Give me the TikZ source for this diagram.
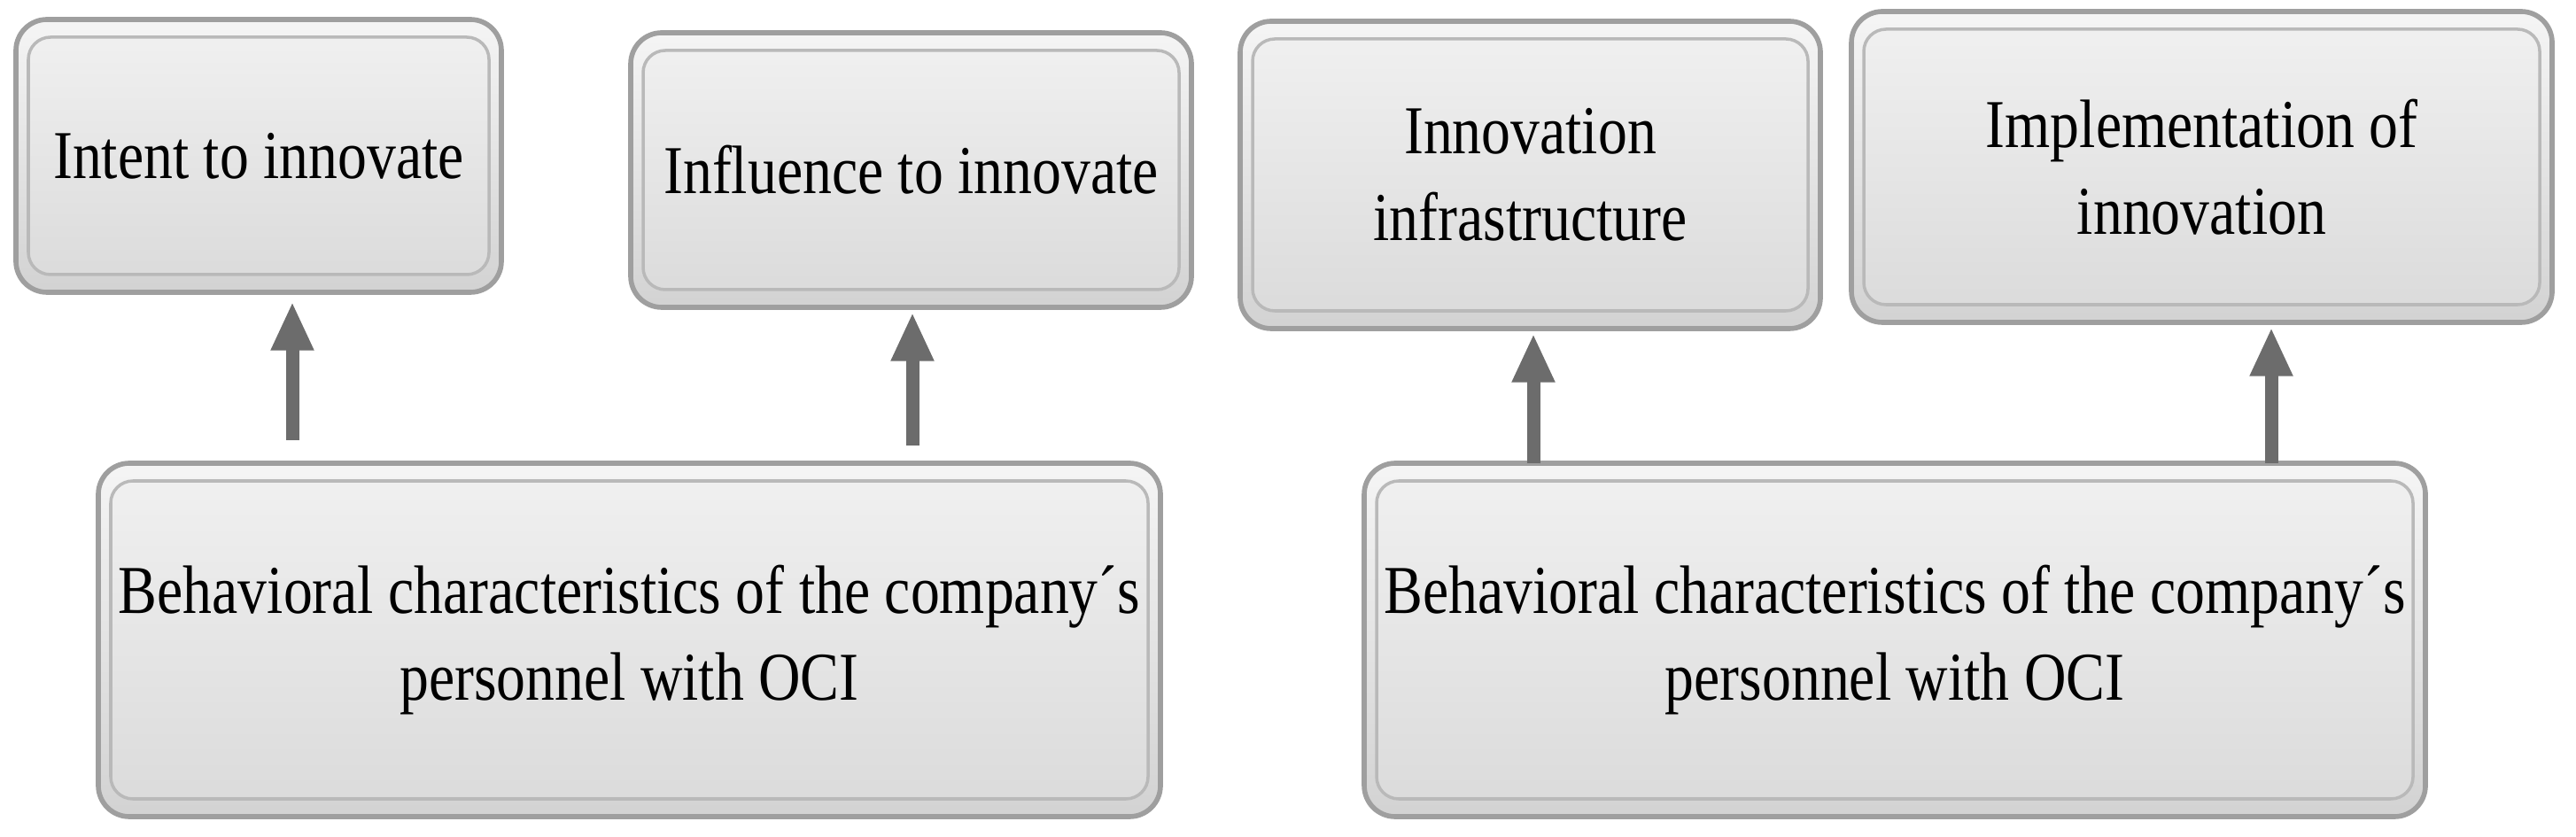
\documentclass[tikz,border=0pt]{standalone}
\usepackage{fontspec}
\setmainfont{Liberation Serif}
\usetikzlibrary{arrows.meta,calc}
\tikzset{
 outerbox/.style={draw=gray!75,line width=1.6pt,rounded corners=0.35cm,top color=gray!8,bottom color=gray!35},
 innerbox/.style={draw=gray!55,line width=1pt,rounded corners=0.25cm,top color=gray!12,bottom color=gray!28},
 label/.style={draw=none,align=center,font=\fontsize{22}{28}\selectfont,inner sep=0pt},
 uparrow/.style={draw=gray!85!black,line width=0.15cm,-{Triangle[width=0.45cm,length=0.55cm]}}
}
\newcommand{\mybox}[6]{%
 \path[outerbox] (#2,#3) rectangle (#4,#5);
 \path[innerbox] ($(#2,#3)+(0.14,0.2)$) rectangle ($(#4,#5)+(-0.14,-0.2)$);
 \node[label,minimum width={(#4-#2)*1cm},minimum height={(#5-#3)*1cm}] (#1) at ($(#2,#3)!0.5!(#4,#5)$) {\scalebox{0.85}[1]{\parbox{15cm}{\centering #6}}};
}
\begin{document}
\begin{tikzpicture}
\useasboundingbox (0,0) rectangle (29.08,9.44);
\mybox{a}{0.18}{6.14}{5.66}{9.22}{Intent to innovate}
\mybox{b}{7.12}{5.97}{13.45}{9.07}{Influence to innovate}
\mybox{c}{14.0}{5.73}{20.55}{9.20}{Innovation\\infrastructure}
\mybox{d}{20.9}{5.80}{28.81}{9.31}{Implementation of\\innovation}
\mybox{e}{1.11}{0.22}{13.10}{4.21}{Behavioral characteristics of the company\textasciiacute s\\personnel with OCI}
\mybox{f}{15.40}{0.22}{27.38}{4.21}{Behavioral characteristics of the company\textasciiacute s\\personnel with OCI}
\coordinate (s1) at (3.30,4.47);
\coordinate (s2) at (10.30,4.41);
\coordinate (s3) at (17.31,4.21);
\coordinate (s4) at (25.64,4.21);
\draw[uparrow] (s1) -- ($(s1 |- a.south)+(0,-0.1)$);
\draw[uparrow] (s2) -- ($(s2 |- b.south)+(0,-0.05)$);
\draw[uparrow] (s3) -- ($(s3 |- c.south)+(0,-0.05)$);
\draw[uparrow] (s4) -- ($(s4 |- d.south)+(0,-0.05)$);
\end{tikzpicture}
\end{document}
